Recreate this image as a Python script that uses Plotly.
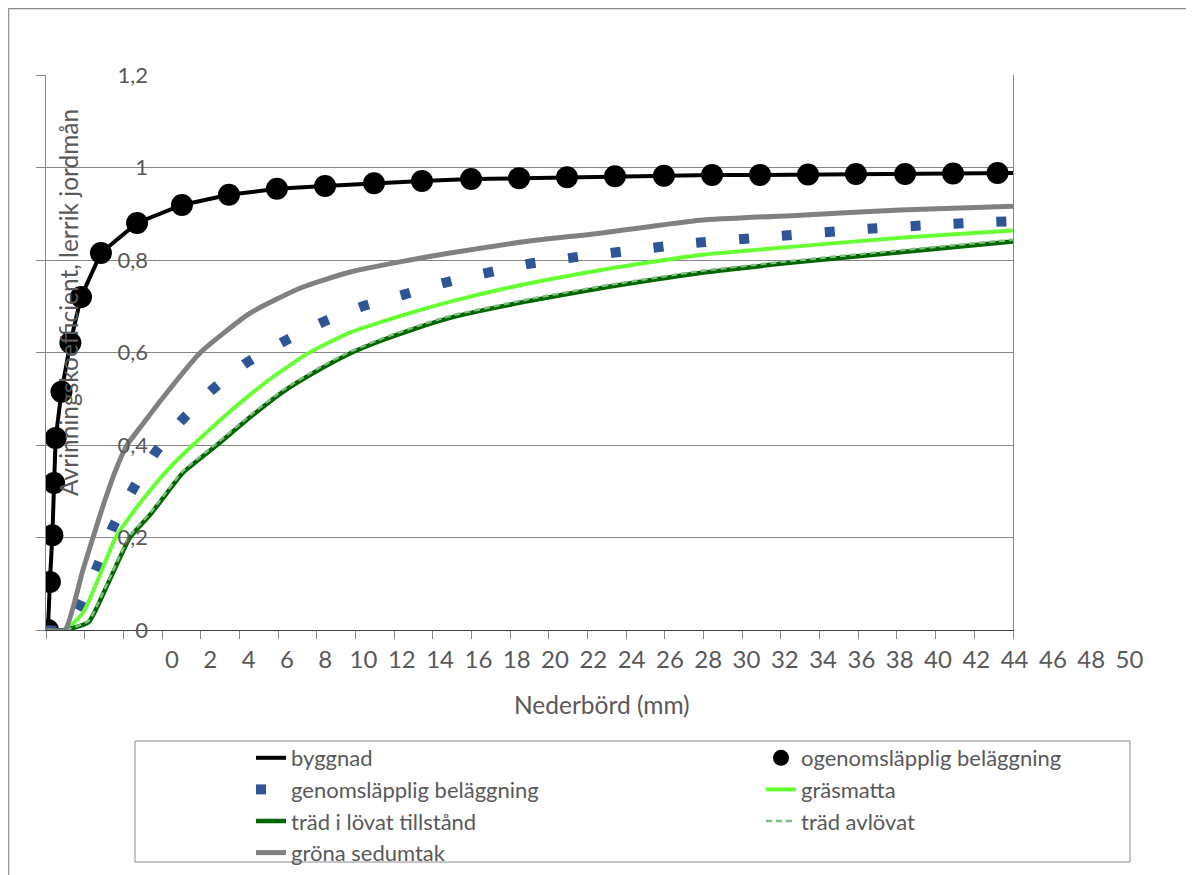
import plotly.graph_objects as go

# ---------------- data ----------------
# ogenomsläpplig beläggning (markers) and byggnad (line)
precip_tat = [0.1, 0.2, 0.33, 0.42, 0.5, 0.8, 1.26, 1.81, 2.84, 4.71, 7.03, 9.46, 11.94,
              14.43, 16.96, 19.44, 21.98, 24.46, 26.94, 29.42, 31.95, 34.44, 36.92,
              39.4, 41.88, 44.42, 46.9, 49.2]
coef_ogenom = [0, 0.104, 0.205, 0.318, 0.415, 0.515, 0.621, 0.72, 0.815, 0.88, 0.919,
               0.941, 0.954, 0.96, 0.966, 0.971, 0.975, 0.977, 0.979, 0.981, 0.982,
               0.984, 0.984, 0.985, 0.986, 0.986, 0.987, 0.988]
precip_bygg = [0.0] + precip_tat + [50.0]
coef_bygg = [0.0] + coef_ogenom + [0.988]

# genomsläpplig beläggning
precip_genom = [0, 0.98, 1.76, 2.64, 3.46, 4.5, 5.64, 7.03, 8.58, 10.34, 12.25, 14.22,
                16.24, 18.41, 20.53, 24.87, 26.99, 29.16, 33.56, 37.95, 42.35, 46.74, 50]
coef_genom = [0, 0, 0.054, 0.136, 0.223, 0.305, 0.383, 0.454, 0.519, 0.577, 0.623, 0.664,
              0.698, 0.724, 0.75, 0.791, 0.804, 0.815, 0.837, 0.852, 0.867, 0.878, 0.884]

# gräsmatta
precip_gras = [0, 0.98, 1.91, 2.8, 3.6, 4.6, 5.74, 6.6, 7.6, 9.5, 11.5, 13.5, 15.7,
               17.4, 19.2, 20.9, 24.8, 28.65, 33.82, 38.99, 44.16, 50]
coef_gras = [0, 0, 0.037, 0.12, 0.2, 0.26, 0.32, 0.36, 0.4, 0.472, 0.54, 0.597, 0.643,
             0.667, 0.69, 0.71, 0.748, 0.778, 0.811, 0.83, 0.848, 0.864]

# träd i lövat tillstånd
precip_lov = [0, 0.98, 2.2, 3.2, 4.34, 5.4, 6.05, 7.08, 8.84, 10.55, 12.25, 14.0,
              15.72, 17.42, 19.18, 20.89, 24.8, 28.65, 33.82, 38.99, 44.16, 50]
coef_lov = [0, 0, 0.017, 0.1, 0.2, 0.25, 0.285, 0.34, 0.4, 0.46, 0.515, 0.56,
            0.598, 0.627, 0.653, 0.675, 0.71, 0.739, 0.772, 0.796, 0.817, 0.84]

# träd avlövat
precip_avlov = [0, 0.98, 2.2, 3.2, 4.34, 5.4, 6.05, 7.08, 8.84, 10.55, 12.25, 14.0,
                15.72, 17.42, 19.18, 20.89, 24.8, 28.65, 33.82, 38.99, 44.16, 50]
coef_avlov = [0, 0, 0.02, 0.104, 0.204, 0.254, 0.289, 0.344, 0.404, 0.464, 0.519, 0.564,
              0.602, 0.631, 0.657, 0.679, 0.714, 0.743, 0.776, 0.8, 0.821, 0.844]

# gröna sedumtak
precip_sedum = [0, 0.98, 1.91, 2.9, 3.6, 4.19, 5.0, 6.0, 7.96, 10.55, 13.13, 15.72, 18.3,
                20.89, 24.8, 28.65, 33.82, 38.99, 44.16, 50]
coef_sedum = [0, 0, 0.13, 0.262, 0.345, 0.4, 0.445, 0.5, 0.599, 0.685, 0.739, 0.774,
              0.796, 0.815, 0.84, 0.858, 0.886, 0.897, 0.908, 0.916]

x_ticklabels = list(range(0, 52, 2))
y_ticklabels = [0, 0.2, 0.4, 0.6, 0.8, 1.0, 1.2]
y_ticktext = ["0", "0,2", "0,4", "0,6", "0,8", "1", "1,2"]

# ---------------- layout geometry (screen pixels; page body has an 8px offset) ----------------
OFF = 8
W, H = 1194 - OFF, 875 - OFF
S_L, S_T, S_R, S_B = 46, 75, 1160, 630      # paper area in screen px
S_PLOT_R = 1013                              # right edge of data area (screen px)
L, T = S_L - OFF, S_T - OFF
PW = S_R - S_L
PH = S_B - S_T


def sx(x_screen):
    return (x_screen - S_L) / PW


def sy(y_screen):
    return (S_B - y_screen) / PH


FONT = "Lato"
GREY_TXT = "#595959"
GRID = "#868686"
SMOOTH = 0.5

fig = go.Figure()

fig.add_trace(go.Scatter(x=precip_bygg, y=coef_bygg, name="byggnad", mode="lines",
                         line=dict(color="#000000", width=4), legend="legend"))
fig.add_trace(go.Scatter(x=precip_tat, y=coef_ogenom, name="ogenomsläpplig beläggning",
                         mode="markers", marker=dict(color="#000000", size=22),
                         legend="legend2"))
fig.add_trace(go.Scatter(x=precip_genom, y=coef_genom, name="genomsläpplig beläggning",
                         mode="lines",
                         line=dict(color="#2F5597", width=10, dash="10px,33px",
                                   shape="spline", smoothing=SMOOTH),
                         legend="legend"))
fig.add_trace(go.Scatter(x=precip_gras, y=coef_gras, name="gräsmatta", mode="lines",
                         line=dict(color="#66FF33", width=4, shape="spline",
                                   smoothing=SMOOTH),
                         legend="legend2"))
fig.add_trace(go.Scatter(x=precip_lov, y=coef_lov, name="träd i lövat tillstånd", mode="lines",
                         line=dict(color="#006600", width=4.5, shape="spline",
                                   smoothing=SMOOTH),
                         legend="legend"))
fig.add_trace(go.Scatter(x=precip_avlov, y=coef_avlov, name="träd avlövat", mode="lines",
                         line=dict(color="#7FBF7F", width=2.5, dash="6px,4px",
                                   shape="spline", smoothing=SMOOTH),
                         legend="legend2"))
fig.add_trace(go.Scatter(x=precip_sedum, y=coef_sedum, name="gröna sedumtak", mode="lines",
                         line=dict(color="#808080", width=5, shape="spline",
                                   smoothing=SMOOTH),
                         legend="legend"))

# helper empty traces so that label axes are drawn
fig.add_trace(go.Scatter(x=[None], y=[None], xaxis="x2", yaxis="y3", showlegend=False,
                         hoverinfo="skip"))
fig.add_trace(go.Scatter(x=[None], y=[None], xaxis="x", yaxis="y2", showlegend=False,
                         hoverinfo="skip"))

px_per_unit = 19.15
label0_screen = 172

legend_font = dict(size=22, color=GREY_TXT, family=FONT)

fig.update_layout(
    width=W, height=H,
    margin=dict(l=L, r=W - (S_R - OFF), t=T, b=H - (S_B - OFF), pad=0, autoexpand=False),
    paper_bgcolor="white", plot_bgcolor="rgba(0,0,0,0)",
    separators=", ",
    font=dict(family=FONT, size=22, color=GREY_TXT),
    xaxis=dict(domain=[0, sx(S_PLOT_R)], range=[0, 50], dtick=2, tick0=0,
               showticklabels=False, ticks="outside", ticklen=8, tickcolor=GRID,
               showgrid=False, zeroline=False, showline=True, linecolor="#404040",
               linewidth=1),
    yaxis=dict(domain=[0, 1], range=[0, 1.2], dtick=0.2, tick0=0,
               showticklabels=False, ticks="outside", ticklen=9, tickcolor=GRID,
               showgrid=True, gridcolor=GRID, gridwidth=1, zeroline=False,
               showline=True, linecolor=GRID, mirror=True),
    xaxis2=dict(domain=[0, 1], anchor="y3",
                range=[(S_L - label0_screen) / px_per_unit, (S_R - label0_screen) / px_per_unit],
                tickvals=x_ticklabels, ticktext=[str(v) for v in x_ticklabels],
                ticks="outside", ticklen=8, tickcolor="rgba(0,0,0,0)",
                showgrid=False, zeroline=False, showline=False,
                tickfont=dict(size=24, color=GREY_TXT, family=FONT)),
    yaxis3=dict(domain=[0, 1], anchor="x2", range=[0, 1.2], visible=False),
    yaxis2=dict(overlaying="y", anchor="free", position=sx(148), side="left",
                range=[0, 1.2], tickvals=y_ticklabels, ticktext=y_ticktext,
                ticks="", showgrid=False, zeroline=False, showline=False,
                tickfont=dict(size=22, color=GREY_TXT, family=FONT)),
    legend=dict(orientation="v", xref="container", yref="container",
                x=(251 - OFF) / W, xanchor="left", y=1 - (737 - OFF) / H, yanchor="top",
                font=legend_font, bgcolor="rgba(0,0,0,0)", borderwidth=0,
                traceorder="normal", tracegroupgap=0),
    legend2=dict(orientation="v", xref="container", yref="container",
                 x=(761 - OFF) / W, xanchor="left", y=1 - (737 - OFF) / H, yanchor="top",
                 font=legend_font, bgcolor="rgba(0,0,0,0)", borderwidth=0,
                 traceorder="normal", tracegroupgap=0),
    showlegend=True,
)

# axis titles
fig.add_annotation(text="Nederbörd (mm)", xref="paper", yref="paper",
                   x=sx(602), y=sy(704), xanchor="center", yanchor="middle",
                   showarrow=False, font=dict(size=24.5, color=GREY_TXT, family=FONT))
fig.add_annotation(text="Avrinningskoefficient, lerrik jordmån", xref="paper", yref="paper",
                   x=sx(68), y=sy(303), xanchor="center", yanchor="middle",
                   showarrow=False, textangle=-90,
                   font=dict(size=24.5, color=GREY_TXT, family=FONT))

# legend frame and chart frame
fig.add_shape(type="rect", xref="paper", yref="paper",
              x0=sx(135), x1=sx(1130), y0=sy(862), y1=sy(741),
              line=dict(color="#8c8c8c", width=1), fillcolor="rgba(0,0,0,0)")
fig.add_shape(type="line", xref="paper", yref="paper",
              x0=sx(OFF + 0.5), x1=sx(1194), y0=sy(OFF + 0.7), y1=sy(OFF + 0.7),
              line=dict(color="#8c8c8c", width=1.2))
fig.add_shape(type="line", xref="paper", yref="paper",
              x0=sx(OFF + 0.7), x1=sx(OFF + 0.7), y0=sy(OFF), y1=sy(875),
              line=dict(color="#8c8c8c", width=1.2))

fig.write_html("out.html")
